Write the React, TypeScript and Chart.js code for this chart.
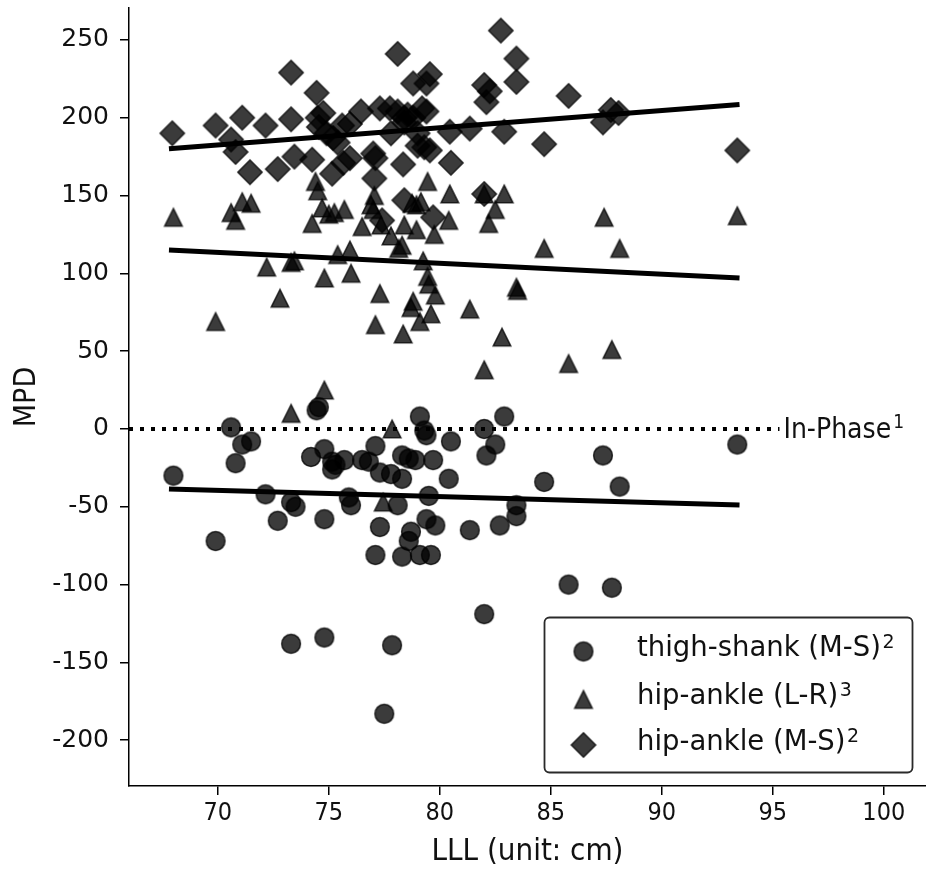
import React, { useEffect, useRef } from 'react';
import { Chart, registerables } from 'chart.js';

Chart.register(...registerables);

// ---------- data ----------
const thighShankX = [68.0, 69.9, 70.6, 70.8, 71.1, 71.5, 72.15, 72.7, 73.3, 73.5, 73.3, 74.45, 74.55, 74.2, 74.8, 74.8, 74.8, 75.15, 75.3, 75.7, 75.15, 75.9, 76.0, 76.5, 76.8, 77.1, 77.3, 77.8, 78.3, 78.1, 77.3, 77.1, 78.3, 79.1, 79.6, 78.7, 78.6, 79.4, 79.8, 79.1, 79.3, 79.4, 78.3, 78.6, 78.9, 79.7, 79.5, 80.5, 80.4, 81.35, 82.0, 82.5, 82.1, 82.9, 82.7, 83.45, 83.45, 84.7, 87.35, 88.1, 93.4, 85.8, 87.75, 77.85, 82.0, 77.5];
const thighShankY = [-30, -72, 1, -22, -10, -8, -42, -59, -47, -50, -138, 12, 14, -18, -13, -58, -134, -21, -23, -20, -26, -44, -49, -20, -21, -11, -28, -29, -32, -49, -63, -81, -82, -81, -81, -66, -72, -58, -62, 8, -1, -4, -17, -19, -20, -20, -43, -8, -32, -65, 0, -10, -17, 8, -62, -49, -56, -34, -17, -37, -10, -100, -102, -139, -119, -183];

const hipAnkleLRX = [68.0, 69.9, 70.6, 70.8, 71.1, 71.5, 72.2, 72.8, 73.3, 73.45, 73.3, 74.8, 74.25, 74.4, 74.5, 74.7, 75.0, 75.25, 75.7, 74.8, 75.4, 75.95, 76.0, 76.5, 76.9, 77.05, 77.3, 77.1, 77.35, 77.8, 78.15, 78.3, 78.4, 78.95, 78.35, 78.7, 78.8, 79.1, 79.25, 79.45, 79.5, 79.8, 79.6, 79.75, 80.4, 81.35, 82.0, 82.2, 82.5, 82.8, 83.45, 83.5, 77.85, 77.45, 87.4, 93.4, 84.7, 88.1, 85.8, 87.75, 78.75, 79.15, 79.45, 80.45, 82.0, 82.9, 77.0, 78.95];
const hipAnkleLRY = [136, 69, 139, 134, 146, 145, 104, 84, 107, 108, 10, 25, 132, 159, 153, 142, 138, 139, 141, 97, 112, 115, 100, 130, 144, 150, 87, 67, 131, 124, 116, 118, 131, 128, 61, 78, 82, 69, 108, 98, 93, 86, 74, 125, 134, 77, 38, 132, 141, 59, 91, 89, 0, -47, 136, 137, 116, 116, 42, 51, 145, 146, 159, 151, 151, 151, 141, 144];

const hipAnkleMSX = [67.95, 69.9, 70.6, 70.8, 71.1, 71.45, 72.15, 72.7, 73.3, 73.3, 73.45, 74.25, 74.45, 74.5, 74.75, 74.55, 74.9, 75.2, 75.4, 75.15, 75.65, 75.95, 75.6, 75.95, 76.45, 77.0, 77.1, 77.05, 77.3, 77.75, 78.1, 78.35, 78.8, 79.4, 79.55, 78.1, 78.55, 79.2, 79.4, 77.8, 78.4, 79.0, 79.0, 79.3, 79.55, 80.45, 80.5, 81.35, 82.0, 82.25, 82.1, 82.75, 83.45, 83.45, 82.9, 85.8, 87.7, 88.05, 87.35, 84.7, 93.4, 78.4, 79.7, 82.0, 77.4, 78.8, 78.4];
const hipAnkleMSY = [190, 195, 186, 178, 200, 165, 195, 167, 229, 199, 175, 173, 216, 200, 203, 194, 190, 187, 184, 164, 171, 174, 195, 196, 204, 177, 174, 161, 206, 206, 241, 170, 222, 222, 228, 204, 202, 206, 204, 190, 197, 190, 182, 181, 179, 191, 171, 193, 221, 217, 210, 256, 238, 223, 191, 214, 205, 203, 197, 183, 179, 147, 136, 151, 134, 200, 200];

const fitX = [67.8, 93.5];
const thighShankFitY = [-38.6, -48.8];
const hipAnkleLRFitY = [115, 97];
const hipAnkleMSFitY = [180, 208.5];

const inPhaseX = [66.0, 95.3];
const inPhaseY = [0, 0];

const seriesLabels = ['thigh-shank (M-S)', 'hip-ankle (L-R)', 'hip-ankle (M-S)'];
const seriesSup = ['2', '3', '2'];
const inPhaseLabel = 'In-Phase';
const inPhaseSup = '1';

const xTicks = [70, 75, 80, 85, 90, 95, 100];
const yTicks = [-200, -150, -100, -50, 0, 50, 100, 150, 200, 250];
const xTitle = 'LLL (unit: cm)';
const yTitle = 'MPD';

const X_MIN = 66.0;
const X_MAX = 101.9;
const Y_MIN = -229.4;
const Y_MAX = 270.5;

// ---------- helpers ----------
const toPoints = (xs: number[], ys: number[]) => xs.map((x, i) => ({ x, y: ys[i] }));

const MARK_FILL = 'rgba(0,0,0,0.77)';

function makeMarker(shape: 'circle' | 'triangle' | 'diamond'): HTMLCanvasElement {
  const size = shape === 'diamond' ? 30 : 24;
  const c = document.createElement('canvas');
  c.width = size;
  c.height = size;
  const g = c.getContext('2d') as CanvasRenderingContext2D;
  const m = size / 2;
  g.beginPath();
  if (shape === 'circle') {
    g.arc(m, m, 9.4, 0, Math.PI * 2);
  } else if (shape === 'triangle') {
    const h = 8.8;
    g.moveTo(m, m - h);
    g.lineTo(m + h, m + h);
    g.lineTo(m - h, m + h);
    g.closePath();
  } else {
    const h = 12.2;
    g.moveTo(m, m - h);
    g.lineTo(m + h, m);
    g.lineTo(m, m + h);
    g.lineTo(m - h, m);
    g.closePath();
  }
  g.fillStyle = MARK_FILL;
  g.fill();
  g.lineWidth = 1.5;
  g.strokeStyle = MARK_FILL;
  g.stroke();
  return c;
}

const CONDENSED = "'DejaVu Sans Condensed', 'Liberation Sans Narrow', 'DejaVu Sans', sans-serif";
const NORMAL = "'DejaVu Sans', sans-serif";

export default function App() {
  const canvasRef = useRef<HTMLCanvasElement | null>(null);

  useEffect(() => {
    document.body.style.margin = '0';
    const canvas = canvasRef.current;
    if (!canvas) return;

    const markers = [makeMarker('circle'), makeMarker('triangle'), makeMarker('diamond')];

    const inPhasePlugin = {
      id: 'inPhaseLabel',
      afterDatasetsDraw(chart: any) {
        const ctx = chart.ctx;
        const xs = chart.scales.x;
        const ys = chart.scales.y;
        const px = xs.getPixelForValue(inPhaseX[1]) + 4;
        const py = ys.getPixelForValue(0);
        ctx.save();
        ctx.fillStyle = '#111';
        ctx.textBaseline = 'alphabetic';
        ctx.textAlign = 'left';
        ctx.font = `28px ${CONDENSED}`;
        ctx.fillText(inPhaseLabel, px, py + 9);
        const w = ctx.measureText(inPhaseLabel).width;
        ctx.font = `19px ${CONDENSED}`;
        ctx.fillText(inPhaseSup, px + w + 2, py - 1);
        ctx.restore();
      },
    };

    const legendPlugin = {
      id: 'customLegend',
      afterDraw(chart: any) {
        const ctx = chart.ctx;
        const bx = 544.5, by = 617.5, bw = 368, bh = 155;
        ctx.save();
        ctx.beginPath();
        ctx.roundRect(bx, by, bw, bh, 5);
        ctx.fillStyle = 'rgba(255,255,255,0.8)';
        ctx.fill();
        ctx.lineWidth = 1.8;
        ctx.strokeStyle = '#2a2a2a';
        ctx.stroke();
        const rows = [651.5, 699.5, 745];
        const markerX = 583.5;
        const textX = 637;
        for (let i = 0; i < seriesLabels.length; i++) {
          const mk = markers[i];
          ctx.drawImage(mk, markerX - mk.width / 2, rows[i] - mk.height / 2);
          ctx.fillStyle = '#111';
          ctx.textAlign = 'left';
          ctx.textBaseline = 'alphabetic';
          ctx.font = `27.5px ${NORMAL}`;
          ctx.fillText(seriesLabels[i], textX, rows[i] + 4.5);
          const w = ctx.measureText(seriesLabels[i]).width;
          ctx.font = `19px ${NORMAL}`;
          ctx.fillText(seriesSup[i], textX + w + 1.5, rows[i] - 3.5);
        }
        ctx.restore();
      },
    };

    const scatterDs = (label: string, xs: number[], ys: number[], marker: HTMLCanvasElement, order: number) => ({
      label,
      data: toPoints(xs, ys),
      pointStyle: marker,
      pointRadius: 10,
      pointHoverRadius: 10,
      backgroundColor: MARK_FILL,
      borderColor: MARK_FILL,
      showLine: false,
      order,
    });

    const lineDs = (label: string, xs: number[], ys: number[], extra: any = {}) => ({
      label,
      data: toPoints(xs, ys),
      showLine: true,
      pointRadius: 0,
      pointHoverRadius: 0,
      borderColor: '#000',
      borderWidth: 5,
      borderCapStyle: 'butt',
      fill: false,
      order: 0,
      ...extra,
    });

    const chart = new Chart(canvas, {
      type: 'scatter',
      data: {
        datasets: [
          lineDs('fit thigh-shank', fitX, thighShankFitY),
          lineDs('fit hip-ankle L-R', fitX, hipAnkleLRFitY),
          lineDs('fit hip-ankle M-S', fitX, hipAnkleMSFitY),
          lineDs('in-phase', inPhaseX, inPhaseY, { borderWidth: 4, borderDash: [4, 7] }),
          scatterDs(seriesLabels[0], thighShankX, thighShankY, markers[0], 3),
          scatterDs(seriesLabels[1], hipAnkleLRX, hipAnkleLRY, markers[1], 2),
          scatterDs(seriesLabels[2], hipAnkleMSX, hipAnkleMSY, markers[2], 1),
        ] as any,
      },
      options: {
        animation: false,
        responsive: true,
        maintainAspectRatio: false,
        layout: { autoPadding: false, padding: { top: 8, left: 0, right: 0, bottom: 0 } },
        plugins: {
          legend: { display: false },
          tooltip: { enabled: false },
        },
        scales: {
          x: {
            type: 'linear',
            min: X_MIN,
            max: X_MAX,
            afterBuildTicks: (s: any) => {
              s.ticks = xTicks.map((v) => ({ value: v }));
            },
            afterFit: (s: any) => {
              s.height = 87;
              s.paddingLeft = 0;
              s.paddingRight = 0;
            },
            border: { display: true, color: '#000', width: 1.5 },
            grid: { display: true, drawOnChartArea: false, drawTicks: true, tickLength: 9, color: '#000', lineWidth: 1.5 },
            ticks: { color: '#111', font: { family: CONDENSED, size: 25 }, padding: 3, maxRotation: 0, autoSkip: false },
            title: { display: true, text: xTitle, color: '#111', font: { family: CONDENSED, size: 31 }, padding: { top: 0, bottom: 2 } },
          },
          y: {
            type: 'linear',
            min: Y_MIN,
            max: Y_MAX,
            afterBuildTicks: (s: any) => {
              s.ticks = yTicks.map((v) => ({ value: v }));
            },
            afterFit: (s: any) => {
              s.width = 129;
              s.paddingTop = 0;
              s.paddingBottom = 0;
            },
            border: { display: true, color: '#000', width: 1.5 },
            grid: { display: true, drawOnChartArea: false, drawTicks: true, tickLength: 9, color: '#000', lineWidth: 1.5 },
            ticks: { color: '#111', font: { family: NORMAL, size: 25 }, padding: 11, autoSkip: false },
            title: { display: true, text: yTitle, color: '#111', font: { family: CONDENSED, size: 30 }, padding: { top: 9, bottom: 0 } },
          },
        },
      } as any,
      plugins: [inPhasePlugin, legendPlugin],
    });

    return () => {
      chart.destroy();
    };
  }, []);

  return (
    <div style={{ position: 'relative', width: 926, height: 873 }}>
      <canvas ref={canvasRef} />
    </div>
  );
}
